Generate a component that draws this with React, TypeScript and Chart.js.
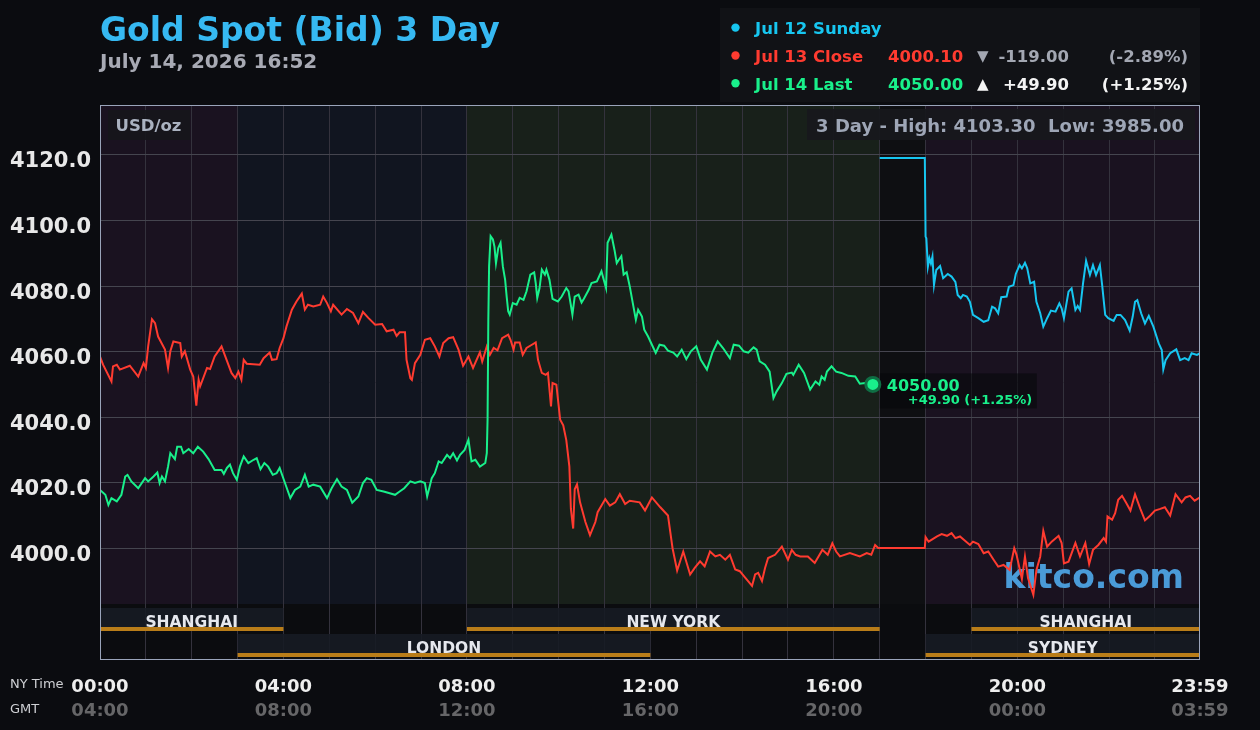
import React, { useEffect, useRef } from "react";
import { Chart, registerables } from "chart.js";

Chart.register(...registerables);

const FONT = '"DejaVu Sans", "Liberation Sans", sans-serif';

// ---- Data (minutes after 00:00 NY time, price USD/oz) ----
const redMinutes = [
  0, 4, 15, 17, 22, 26, 39, 50, 57, 60, 63, 68, 72, 76, 85, 89, 92, 96, 105, 107, 111, 118, 122, 126, 129, 131,
  140, 144, 150, 159, 164, 172, 177, 181, 185, 188, 192, 209, 214, 222, 225, 231, 235, 240, 244, 251, 257, 264,
  268, 272, 279, 288, 292, 297, 302, 305, 316, 323, 331, 338, 344, 351, 360, 369, 375, 384, 388, 392, 399, 401,
  406, 408, 412, 419, 425, 432, 438, 444, 449, 456, 462, 469, 475, 482, 488, 497, 500, 506, 510, 515, 520, 526,
  534, 537, 541, 543, 549, 553, 558, 565, 570, 573, 578, 583, 586, 590, 592, 597, 602, 606, 610, 614, 616, 619,
  621, 624, 628, 635, 641, 648, 651, 661, 667, 674, 680, 687, 693, 706, 713, 722, 733, 743, 749, 755, 763, 772,
  778, 785, 791, 798, 805, 811, 818, 824, 831, 837, 844, 853, 857, 861, 866, 870, 874, 883, 892, 900, 905, 910,
  916, 926, 935, 945, 952, 958, 963, 968, 981, 994, 1003, 1009, 1014, 1018, 1079, 1080, 1084, 1095, 1101, 1108,
  1114, 1119, 1125, 1138, 1142, 1149, 1156, 1162, 1169, 1175, 1182, 1190, 1196, 1199, 1206, 1210, 1214, 1221,
  1225, 1230, 1234, 1239, 1245, 1254, 1258, 1261, 1267, 1276, 1282, 1289, 1294, 1299, 1306, 1313, 1316, 1318,
  1324, 1328, 1332, 1337, 1342, 1348, 1354, 1361, 1367, 1374, 1380, 1387, 1393, 1400, 1407, 1415, 1420, 1426,
  1432, 1439,
];
const redPrices = [
  4058.5, 4056.0, 4050.9, 4055.5, 4056.0, 4054.5, 4055.7, 4052.4, 4056.5, 4055.0, 4061.6, 4069.9, 4068.7, 4064.6,
  4060.6, 4055.0, 4060.1, 4063.1, 4062.6, 4058.5, 4060.1, 4054.5, 4052.4, 4043.5, 4051.4, 4049.4, 4055.0, 4054.7,
  4058.5, 4061.6, 4058.5, 4053.5, 4051.9, 4053.9, 4051.4, 4057.5, 4056.3, 4056.0, 4058.0, 4059.7, 4057.5, 4057.7,
  4061.1, 4064.1, 4067.7, 4072.8, 4075.3, 4077.7, 4072.8, 4074.3, 4073.8, 4074.3, 4076.8, 4074.8, 4072.3, 4074.3,
  4071.3, 4073.0, 4071.8, 4068.7, 4072.1, 4070.3, 4068.2, 4068.4, 4066.2, 4066.7, 4064.8, 4065.9, 4065.9, 4057.5,
  4051.9, 4051.4, 4056.5, 4059.0, 4063.6, 4064.1, 4061.6, 4058.5, 4062.6, 4064.1, 4064.4, 4060.6, 4055.7, 4058.5,
  4055.0, 4059.8, 4057.0, 4061.6, 4059.0, 4061.1, 4060.4, 4064.1, 4065.2, 4063.6, 4060.6, 4062.8, 4062.8, 4059.0,
  4061.1, 4062.1, 4062.8, 4057.5, 4053.5, 4052.9, 4053.5, 4043.3, 4050.4, 4049.9, 4039.2, 4037.5, 4033.0, 4025.0,
  4012.0, 4006.0, 4018.0, 4019.5, 4014.0, 4008.0, 4004.0, 4008.0, 4011.0, 4015.0, 4013.0, 4014.0, 4016.5, 4013.5,
  4014.5, 4014.0, 4011.5, 4015.5, 4012.5, 4010.0, 4000.0, 3993.2, 3999.0, 3992.0, 3994.0, 3996.0, 3994.5, 3999.0,
  3997.5, 3998.0, 3996.5, 3998.0, 3993.5, 3993.0, 3991.0, 3988.5, 3992.0, 3992.5, 3990.0, 3994.0, 3997.0, 3998.0,
  4000.5, 3996.5, 3999.5, 3998.0, 3997.5, 3997.5, 3995.5, 3999.5, 3998.0, 4001.5, 3999.0, 3997.5, 3998.5, 3997.5,
  3998.5, 3998.0, 4001.0, 4000.1, 4000.1, 4003.4, 4002.0, 4003.6, 4004.3, 4003.8, 4004.6, 4003.1, 4003.6, 4001.0,
  4002.0, 4001.3, 3998.5, 3999.0, 3996.5, 3994.4, 3994.9, 3993.4, 4000.0, 3998.0, 3990.6, 3997.5, 3990.9, 3985.8,
  3993.4, 3997.5, 4005.3, 4000.5, 4002.0, 4003.8, 4001.6, 3995.4, 3995.9, 4001.6, 3997.5, 4001.6, 3995.2, 3999.5,
  4001.0, 4003.1, 4002.0, 4009.7, 4008.7, 4010.7, 4014.8, 4016.0, 4014.0, 4011.5, 4016.5, 4012.0, 4008.5, 4010.0,
  4011.5, 4012.0, 4012.5, 4010.0, 4016.5, 4014.0, 4015.5, 4016.0, 4014.5, 4015.5,
];

const greenMinutes = [
  0, 7, 11, 15, 22, 28, 33, 36, 41, 50, 59, 63, 70, 75, 78, 81, 85, 89, 92, 98, 101, 106, 109, 116, 122, 128, 135,
  142, 150, 159, 162, 166, 170, 174, 179, 183, 188, 194, 201, 205, 210, 215, 220, 226, 231, 235, 242, 249, 255,
  262, 268, 273, 279, 288, 297, 303, 310, 316, 323, 330, 338, 344, 349, 355, 362, 371, 379, 386, 392, 398, 406,
  412, 419, 425, 428, 434, 438, 443, 447, 454, 458, 462, 467, 471, 477, 482, 486, 491, 497, 504, 506, 507, 508,
  509, 511, 514, 516, 518, 521, 524, 527, 530, 532, 534, 536, 540, 545, 549, 554, 558, 563, 568, 570, 572, 575,
  578, 582, 584, 588, 592, 599, 604, 610, 613, 618, 621, 626, 630, 633, 639, 643, 650, 656, 659, 662, 664, 667,
  669, 673, 676, 679, 682, 685, 689, 693, 697, 701, 704, 709, 712, 717, 722, 727, 732, 738, 743, 750, 755, 761,
  767, 773, 780, 786, 794, 801, 808, 815, 824, 829, 836, 842, 848, 855, 859, 863, 870, 876, 881, 885, 892, 898,
  905, 907, 914, 921, 929, 936, 941, 944, 948, 951, 957, 963, 970, 979, 988, 994, 1001, 1011,
];
const greenPrices = [
  4017.8, 4016.3, 4013.2, 4015.3, 4014.3, 4016.3, 4021.9, 4022.4, 4020.4, 4018.3, 4021.4, 4020.4, 4021.9, 4023.1,
  4019.9, 4021.9, 4020.4, 4024.9, 4029.0, 4027.2, 4031.0, 4031.0, 4029.0, 4030.3, 4029.0, 4031.0, 4029.5, 4027.2,
  4023.9, 4023.9, 4022.7, 4024.5, 4025.5, 4022.9, 4020.9, 4024.9, 4028.0, 4026.0, 4027.0, 4027.5, 4024.1, 4026.0,
  4024.9, 4022.4, 4022.9, 4024.5, 4019.9, 4015.3, 4017.8, 4018.8, 4022.4, 4018.8, 4019.4, 4018.8, 4015.3, 4018.3,
  4021.1, 4018.8, 4017.8, 4013.9, 4015.8, 4019.9, 4021.4, 4020.9, 4017.8, 4017.3, 4016.8, 4016.3, 4017.3, 4018.3,
  4020.4, 4019.9, 4020.4, 4019.9, 4015.8, 4021.4, 4022.9, 4026.5, 4026.0, 4028.5, 4027.5, 4029.0, 4026.8, 4028.5,
  4030.0, 4033.1, 4026.5, 4027.0, 4024.9, 4026.0, 4029.0, 4039.2, 4069.7, 4086.0, 4095.2, 4094.2, 4092.1, 4087.0,
  4091.6, 4093.2, 4086.0, 4081.9, 4076.8, 4072.3, 4071.3, 4074.8, 4074.3, 4076.4, 4075.8, 4078.4, 4083.5, 4084.2,
  4080.9, 4076.4, 4079.4, 4085.0, 4083.5, 4085.0, 4081.9, 4076.1, 4075.3, 4076.8, 4079.4, 4078.4, 4071.3, 4076.8,
  4077.4, 4075.0, 4076.1, 4078.7, 4080.9, 4081.4, 4084.5, 4081.9, 4079.4, 4093.2, 4094.7, 4095.7, 4091.1, 4087.0,
  4088.1, 4089.1, 4083.5, 4084.2, 4079.9, 4074.8, 4069.7, 4072.8, 4070.7, 4066.7, 4064.6, 4062.1, 4059.6, 4062.1,
  4061.8, 4060.3, 4059.7, 4058.5, 4060.6, 4057.7, 4060.1, 4061.6, 4057.5, 4054.5, 4059.6, 4063.1, 4061.1, 4058.0,
  4062.1, 4061.8, 4060.1, 4059.7, 4061.3, 4060.6, 4057.0, 4056.0, 4053.9, 4045.8, 4047.8, 4050.4, 4053.2, 4053.6,
  4052.9, 4056.0, 4053.5, 4048.4, 4050.9, 4049.9, 4052.4, 4051.4, 4053.9, 4055.5, 4053.9, 4053.5, 4052.6, 4052.4,
  4050.2, 4050.4, 4050.0,
];

const blueMinutes = [
  1020, 1079, 1080, 1081, 1083, 1085, 1087, 1089, 1091, 1094, 1099, 1103, 1109, 1114, 1119, 1122, 1126, 1129,
  1134, 1138, 1142, 1149, 1156, 1162, 1167, 1171, 1175, 1179, 1186, 1189, 1195, 1198, 1203, 1206, 1210, 1213,
  1217, 1222, 1225, 1230, 1234, 1239, 1244, 1250, 1255, 1258, 1261, 1267, 1271, 1276, 1279, 1282, 1286, 1290,
  1295, 1299, 1303, 1308, 1311, 1315, 1319, 1326, 1330, 1335, 1341, 1347, 1351, 1354, 1357, 1362, 1367, 1372,
  1378, 1385, 1389, 1391, 1394, 1400, 1408, 1413, 1419, 1424, 1428, 1435, 1439,
];
const bluePrices = [
  4119.1, 4119.1, 4095.1, 4094.6, 4085.9, 4088.5, 4086.9, 4089.0, 4080.3, 4084.9, 4086.1, 4082.4, 4083.7, 4082.9,
  4081.3, 4077.3, 4076.3, 4077.3, 4076.8, 4075.2, 4071.2, 4070.2, 4069.1, 4069.6, 4073.7, 4073.2, 4071.7, 4076.6,
  4076.8, 4079.8, 4080.3, 4083.7, 4086.4, 4085.4, 4087.1, 4085.4, 4080.8, 4081.3, 4075.2, 4071.7, 4067.6, 4070.2,
  4072.5, 4072.2, 4074.7, 4073.2, 4070.2, 4078.3, 4079.3, 4072.7, 4073.9, 4072.7, 4080.8, 4087.7, 4083.4, 4086.4,
  4083.4, 4086.4, 4080.3, 4071.2, 4070.2, 4069.4, 4071.2, 4071.2, 4069.6, 4066.4, 4070.7, 4075.2, 4075.7, 4071.7,
  4068.6, 4070.9, 4067.6, 4062.5, 4060.5, 4054.6, 4057.4, 4059.5, 4060.7, 4057.4, 4058.0, 4057.4, 4059.5, 4059.0,
  4059.5,
];

// ---- Axes / labels ----
const yTicks = [4000, 4020, 4040, 4060, 4080, 4100, 4120];
const hourGrid = [60, 120, 180, 240, 300, 360, 420, 480, 540, 600, 660, 720, 780, 840, 900, 960, 1020, 1080, 1140, 1200, 1260, 1320, 1380];
const xLabelMinutes = [0, 240, 480, 720, 960, 1200, 1439];
const nyLabels = ["00:00", "04:00", "08:00", "12:00", "16:00", "20:00", "23:59"];
const gmtLabels = ["04:00", "08:00", "12:00", "16:00", "20:00", "00:00", "03:59"];

// ---- Market sessions ----
const sessionNames = ["SHANGHAI", "NEW YORK", "SHANGHAI", "LONDON", "SYDNEY"];
const sessionStart = [0, 480, 1140, 180, 1080];
const sessionEnd = [240, 1020, 1439, 720, 1439];
const sessionRow = [0, 0, 0, 1, 1];

const bandStart = [0, 180, 480, 1020, 1080];
const bandEnd = [180, 480, 1020, 1080, 1439];
const bandColors = ["#1a1220", "#111520", "#18201a", "#0e0f12", "#1a1220"];

// ---- Legend text ----
const legendNames = ["Jul 12 Sunday", "Jul 13 Close", "Jul 14 Last"];
const legendColors = ["#17c6f0", "#ff3b30", "#19f08b"];
const legendValues = ["", "4000.10", "4050.00"];
const legendArrows = ["", "\u25BC", "\u25B2"];
const legendChanges = ["", "-119.00", "+49.90"];
const legendPercents = ["", "(-2.89%)", "(+1.25%)"];
const legendDetailColors = ["", "#a3a7b2", "#f4f4f4"];

const TITLE = "Gold Spot (Bid) 3 Day";
const SUBTITLE = "July 14, 2026 16:52";
const RANGE_TEXT = "3 Day - High: 4103.30  Low: 3985.00";
const LAST_TEXT = "4050.00";
const LAST_CHANGE = "+49.90 (+1.25%)";

const RED = "#ff3b30";
const GREEN = "#19f08b";
const BLUE = "#17c6f0";

const decorPlugin = {
  id: "decor",
  beforeDraw(chart: any) {
    const { ctx, chartArea: a, scales } = chart;
    const xs = scales.x;
    ctx.save();
    ctx.fillStyle = "#0b0c10";
    ctx.fillRect(0, 0, chart.width, chart.height);
    ctx.fillStyle = "#0b0c0f";
    ctx.fillRect(a.left, a.top, a.width, a.height);
    const priceBottom = a.bottom - 56;
    for (let i = 0; i < bandStart.length; i++) {
      const x0 = xs.getPixelForValue(bandStart[i]);
      const x1 = i === bandStart.length - 1 ? a.right : xs.getPixelForValue(bandEnd[i]);
      ctx.fillStyle = bandColors[i];
      ctx.fillRect(x0, a.top, x1 - x0, priceBottom - a.top);
    }
    ctx.restore();
  },
  beforeDatasetsDraw(chart: any) {
    const { ctx, chartArea: a, scales } = chart;
    const xs = scales.x;
    const ys = scales.y;
    ctx.save();
    // sessions
    for (let i = 0; i < sessionNames.length; i++) {
      const x0 = xs.getPixelForValue(sessionStart[i]);
      const x1 = sessionEnd[i] >= 1439 ? a.right : xs.getPixelForValue(sessionEnd[i]);
      const top = sessionRow[i] === 0 ? a.bottom - 52 : a.bottom - 26;
      ctx.fillStyle = "rgba(22,27,36,0.9)";
      ctx.fillRect(x0, top, x1 - x0, 23);
      ctx.fillStyle = "#b97d19";
      ctx.fillRect(x0, top + 19, x1 - x0, 4);
      ctx.fillStyle = "#e6e8ee";
      ctx.font = `bold 15.5px ${FONT}`;
      ctx.textAlign = "center";
      ctx.textBaseline = "alphabetic";
      ctx.fillText(sessionNames[i], (x0 + x1) / 2, top + 18.7);
    }
    // watermark
    ctx.font = `bold 33px ${FONT}`;
    ctx.fillStyle = "#4a9bd8";
    ctx.textAlign = "right";
    ctx.fillText("kitco.com", 1184, 588);
    // last value label box
    const li = greenMinutes.length - 1;
    const px = xs.getPixelForValue(greenMinutes[li]);
    const py = ys.getPixelForValue(greenPrices[li]);
    ctx.fillStyle = "rgba(6,7,9,0.55)";
    ctx.fillRect(px + 7, py - 11, 157, 35);
    ctx.restore();
  },
  afterDatasetsDraw(chart: any) {
    const { ctx, chartArea: a, scales } = chart;
    const xs = scales.x;
    const ys = scales.y;
    ctx.save();
    // border
    ctx.strokeStyle = "#9aa4ba";
    ctx.lineWidth = 1;
    ctx.strokeRect(a.left + 0.5, a.top + 0.5, a.width - 1, a.height - 1);

    // last value text
    const li = greenMinutes.length - 1;
    const px = xs.getPixelForValue(greenMinutes[li]);
    const py = ys.getPixelForValue(greenPrices[li]);
    ctx.textAlign = "left";
    ctx.textBaseline = "alphabetic";
    ctx.fillStyle = GREEN;
    ctx.font = `bold 16px ${FONT}`;
    ctx.fillText(LAST_TEXT, px + 14, py + 6.7);
    ctx.font = `bold 13px ${FONT}`;
    ctx.fillText(LAST_CHANGE, px + 35, py + 19.3);

    // USD/oz box
    ctx.fillStyle = "rgba(22,22,27,0.92)";
    ctx.fillRect(108, 110, 82, 30);
    ctx.fillStyle = "#aab2c0";
    ctx.font = `bold 16.5px ${FONT}`;
    ctx.fillText("USD/oz", 115.5, 131);

    // range box
    ctx.fillStyle = "rgba(23,24,28,0.95)";
    ctx.fillRect(807, 109, 388, 31);
    ctx.fillStyle = "#9ea6b6";
    ctx.font = `bold 18px ${FONT}`;
    ctx.textAlign = "right";
    ctx.fillText(RANGE_TEXT, 1184, 131.7);

    // title
    ctx.textAlign = "left";
    ctx.fillStyle = "#36b9f2";
    ctx.font = `bold 33px ${FONT}`;
    ctx.fillText(TITLE, 100, 41.2);
    ctx.fillStyle = "#a8aab4";
    ctx.font = `bold 20px ${FONT}`;
    ctx.fillText(SUBTITLE, 100, 67.6);

    // legend
    ctx.fillStyle = "#111216";
    ctx.fillRect(720, 8, 480, 94);
    const baselines = [34.4, 62.3, 90];
    for (let i = 0; i < legendNames.length; i++) {
      const b = baselines[i];
      ctx.fillStyle = legendColors[i];
      ctx.beginPath();
      ctx.arc(735.5, b - 6.8, 4.2, 0, Math.PI * 2);
      ctx.fill();
      ctx.font = `bold 16.5px ${FONT}`;
      ctx.textAlign = "left";
      ctx.fillText(legendNames[i], 755, b);
      if (legendValues[i]) {
        ctx.fillText(legendValues[i], 888, b);
        ctx.fillStyle = legendDetailColors[i];
        ctx.font = `bold 15px ${FONT}`;
        ctx.fillText(legendArrows[i], 977, b - 1);
        ctx.font = `bold 16.5px ${FONT}`;
        ctx.textAlign = "right";
        ctx.fillText(legendChanges[i], 1069, b);
        ctx.fillText(legendPercents[i], 1188, b);
      }
    }

    // x labels
    ctx.textAlign = "center";
    ctx.textBaseline = "alphabetic";
    for (let i = 0; i < xLabelMinutes.length; i++) {
      const x = xs.getPixelForValue(xLabelMinutes[i]);
      ctx.font = `bold 18px ${FONT}`;
      ctx.fillStyle = "#eeeeee";
      ctx.fillText(nyLabels[i], x, 692);
      ctx.fillStyle = "#666668";
      ctx.fillText(gmtLabels[i], x, 716);
    }
    ctx.textAlign = "left";
    ctx.font = `13px ${FONT}`;
    ctx.fillStyle = "#cfd0d4";
    ctx.fillText("NY Time", 10, 688);
    ctx.fillText("GMT", 10, 713);
    ctx.restore();
  },
};

export default function App() {
  const ref = useRef<HTMLCanvasElement | null>(null);

  useEffect(() => {
    document.body.style.margin = "0";
    document.body.style.background = "#0b0c10";
    const canvas = ref.current;
    if (!canvas) return;
    const lastIdx = greenMinutes.length - 1;
    const chart = new Chart(canvas, {
      type: "line",
      data: {
        datasets: [
          {
            label: "Jul 14 Last",
            data: greenMinutes.map((m, i) => ({ x: m, y: greenPrices[i] })),
            borderColor: GREEN,
            backgroundColor: GREEN,
            borderWidth: 2,
            tension: 0,
            pointRadius: (c: any) => (c.dataIndex === lastIdx ? 7 : 0),
            pointBorderWidth: 3,
            pointBorderColor: "#0f6e44",
            pointBackgroundColor: GREEN,
          },
          {
            label: "Jul 13 Close",
            data: redMinutes.map((m, i) => ({ x: m, y: redPrices[i] })),
            borderColor: RED,
            backgroundColor: RED,
            borderWidth: 2,
            tension: 0,
            pointRadius: 0,
          },
          {
            label: "Jul 12 Sunday",
            data: blueMinutes.map((m, i) => ({ x: m, y: bluePrices[i] })),
            borderColor: BLUE,
            backgroundColor: BLUE,
            borderWidth: 2,
            tension: 0,
            pointRadius: 0,
          },
        ],
      },
      options: {
        responsive: false,
        animation: false,
        devicePixelRatio: 1,
        events: [],
        layout: { padding: { top: 105, left: 0, right: 60, bottom: 70 } },
        plugins: {
          legend: { display: false },
          tooltip: { enabled: false },
          title: { display: false },
        },
        scales: {
          x: {
            type: "linear",
            min: 0,
            max: 1439,
            afterBuildTicks: (s: any) => {
              s.ticks = hourGrid.map((v) => ({ value: v }));
            },
            afterFit: (s: any) => {
              s.height = 0;
            },
            grid: { color: "#34323d", lineWidth: 1, drawTicks: false },
            border: { display: false },
            ticks: { display: false },
          },
          y: {
            type: "linear",
            min: 3965.9,
            max: 4135.25,
            afterBuildTicks: (s: any) => {
              s.ticks = yTicks.map((v) => ({ value: v }));
            },
            afterFit: (s: any) => {
              s.width = 100;
            },
            grid: { color: "#45454f", lineWidth: 1, drawTicks: false },
            border: { display: false },
            ticks: {
              color: "#e8e8e8",
              padding: 9,
              labelOffset: 7,
              font: { family: FONT, size: 21, weight: "bold" },
              callback: (v: any) => Number(v).toFixed(1),
            },
          },
        },
      } as any,
      plugins: [decorPlugin],
    });
    return () => chart.destroy();
  }, []);

  return (
    <div style={{ width: 1260, height: 730, background: "#0b0c10" }}>
      <canvas ref={ref} width={1260} height={730} style={{ display: "block" }} />
    </div>
  );
}
